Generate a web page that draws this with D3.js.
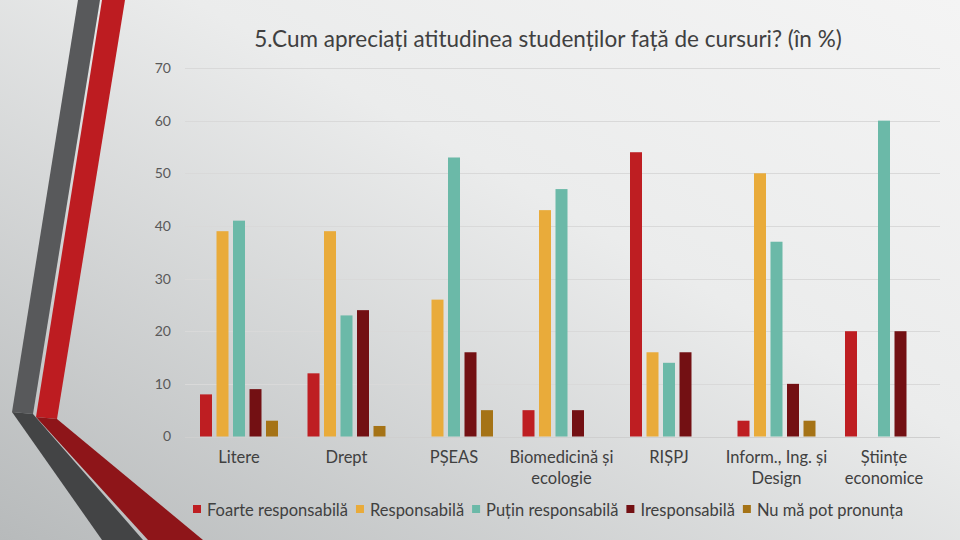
<!DOCTYPE html>
<html>
<head>
<meta charset="utf-8">
<script src="https://cdn.jsdelivr.net/npm/d3@7"></script>
<style>
  body { margin: 0; }
  svg { display: block; font-family: Lato, "Open Sans", sans-serif; }
</style>
</head>
<body>
<svg width="960" height="540"></svg>
<script>
const categories = [
  "Litere",
  "Drept",
  "PȘEAS",
  "Biomedicină și\necologie",
  "RIȘPJ",
  "Inform., Ing. și\nDesign",
  "Științe\neconomice",
];
const seriesNames = [
  "Foarte responsabilă",
  "Responsabilă",
  "Puțin responsabilă",
  "Iresponsabilă",
  "Nu mă pot pronunța",
];
const foarteResponsabila = [8, 12, 0, 5, 54, 3, 20];
const responsabila = [39, 39, 26, 43, 16, 50, 0];
const putinResponsabila = [41, 23, 53, 47, 14, 37, 60];
const iresponsabila = [9, 24, 16, 5, 16, 10, 20];
const nuMaPotPronunta = [3, 2, 5, 0, 0, 3, 0];
const yTicks = [0, 10, 20, 30, 40, 50, 60, 70];
const colors = ["#be1e22", "#e9ab3a", "#6bb9a8", "#731013", "#a57316"];

const seriesValues = [
  foarteResponsabila,
  responsabila,
  putinResponsabila,
  iresponsabila,
  nuMaPotPronunta,
];

const svg = d3.select("svg");
const width = 960;
const height = 540;

// background gradient
const defs = svg.append("defs");
const bg = defs
  .append("linearGradient")
  .attr("id", "bg")
  .attr("x1", "1")
  .attr("y1", "0")
  .attr("x2", "0")
  .attr("y2", "1");
bg.append("stop").attr("offset", "0%").attr("stop-color", "#f4f4f4");
bg.append("stop").attr("offset", "40%").attr("stop-color", "#ebecec");
bg.append("stop").attr("offset", "100%").attr("stop-color", "#b7babb");

svg.append("rect").attr("width", width).attr("height", height).attr("fill", "url(#bg)");

// decorative stripes on the left
const stripes = [
  { pts: [[78, 0], [100, 0], [33, 414], [12, 412]], fill: "#58595b" },
  { pts: [[12, 412], [33, 414], [143, 540], [102, 540]], fill: "#434445" },
  { pts: [[102, 0], [125, 0], [57, 419], [36, 417]], fill: "#bd1c21" },
  { pts: [[36, 417], [57, 419], [203, 540], [148, 540]], fill: "#8e1519" },
];
svg
  .selectAll("polygon.stripe")
  .data(stripes)
  .enter()
  .append("polygon")
  .attr("class", "stripe")
  .attr("points", (d) => d.pts.map((p) => p.join(",")).join(" "))
  .attr("fill", (d) => d.fill);

const xScale = d3.scaleBand().domain(categories).range([185.25, 937.75]).padding(0);
const xInner = d3
  .scaleBand()
  .domain(seriesNames)
  .range([0, 78])
  .paddingInner(0.2727)
  .paddingOuter(0);
const groupOffset = (xScale.bandwidth() - 78) / 2;

const yScale = d3.scaleLinear().domain([0, 70]).range([436.5, 68]);

// gridlines
svg
  .append("g")
  .selectAll("line")
  .data(yTicks)
  .enter()
  .append("line")
  .attr("x1", 185)
  .attr("x2", 940)
  .attr("y1", (d) => Math.round(yScale(d)) + 0.5)
  .attr("y2", (d) => Math.round(yScale(d)) + 0.5)
  .attr("stroke", (d) => (d === 0 ? "#cfcfcf" : "#d9d9d9"))
  .attr("stroke-width", 1);

// y axis labels
const yAxis = d3.axisLeft(yScale).tickValues(yTicks).tickSize(0).tickPadding(0);
const yG = svg.append("g").attr("transform", "translate(171,0)").call(yAxis);
yG.select(".domain").remove();
yG.selectAll("text")
  .attr("fill", "#595959")
  .style("font-size", "14px")
  .style("font-family", "Lato, sans-serif");

// bars
const groups = svg
  .append("g")
  .selectAll("g")
  .data(categories)
  .enter()
  .append("g")
  .attr("transform", (d) => `translate(${xScale(d) + groupOffset},0)`);

groups
  .selectAll("rect")
  .data((d, i) =>
    seriesNames.map((s, j) => ({ series: s, j: j, value: seriesValues[j][i] }))
  )
  .enter()
  .filter((d) => d.value > 0)
  .append("rect")
  .attr("x", (d) => xInner(d.series))
  .attr("width", xInner.bandwidth())
  .attr("y", (d) => yScale(d.value))
  .attr("height", (d) => yScale(0) - yScale(d.value))
  .attr("fill", (d) => colors[d.j]);

// x labels
const xLabels = svg
  .append("g")
  .selectAll("text")
  .data(categories)
  .enter()
  .append("text")
  .attr("x", (d) => xScale(d) + xScale.bandwidth() / 2)
  .attr("y", 463)
  .attr("text-anchor", "middle")
  .attr("fill", "#404040")
  .style("font-size", "16.5px");

xLabels
  .selectAll("tspan")
  .data((d) => d.split("\n"))
  .enter()
  .append("tspan")
  .attr("x", function () {
    return d3.select(this.parentNode).attr("x");
  })
  .attr("dy", (d, i) => (i === 0 ? 0 : 21))
  .text((d) => d);

// title
svg
  .append("text")
  .attr("x", 548)
  .attr("y", 47)
  .attr("text-anchor", "middle")
  .attr("fill", "#404040")
  .style("font-size", "22.5px")
  .text("5.Cum apreciați atitudinea studenților față de cursuri? (în %)");

// legend
const legend = svg.append("g").attr("transform", "translate(193,510)");
let lx = 0;
seriesNames.forEach((name, i) => {
  const item = legend.append("g").attr("transform", `translate(${lx},0)`);
  item
    .append("rect")
    .attr("x", 0)
    .attr("y", -5)
    .attr("width", 8)
    .attr("height", 8)
    .attr("fill", colors[i]);
  const t = item
    .append("text")
    .attr("x", 14)
    .attr("y", 5.5)
    .attr("fill", "#404040")
    .style("font-size", "16.5px")
    .text(name);
  lx += 14 + t.node().getComputedTextLength() + 8;
});
</script>
</body>
</html>
